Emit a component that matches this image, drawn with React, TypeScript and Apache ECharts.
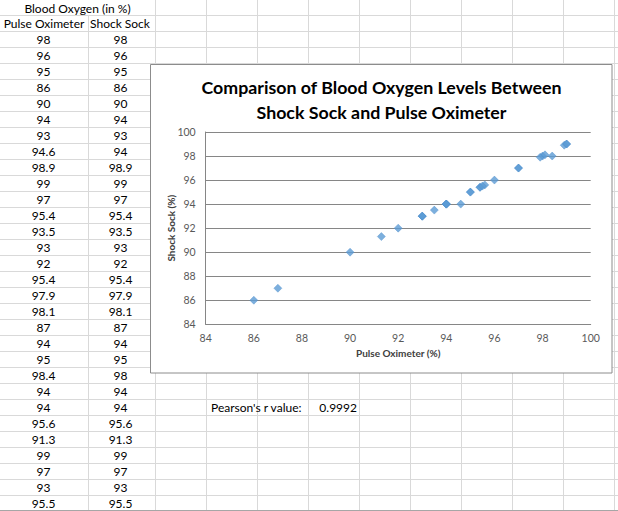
import React, { useEffect, useRef } from "react";
import * as echarts from "echarts";

const sheetTitle = "Blood Oxygen (in %)";
const columnHeaders = ["Pulse Oximeter", "Shock Sock"];
const pulseOximeter = [98, 96, 95, 86, 90, 94, 93, 94.6, 98.9, 99, 97, 95.4, 93.5, 93, 92, 95.4, 97.9, 98.1, 87, 94, 95, 98.4, 94, 94, 95.6, 91.3, 99, 97, 93, 95.5];
const shockSock = [98, 96, 95, 86, 90, 94, 93, 94, 98.9, 99, 97, 95.4, 93.5, 93, 92, 95.4, 97.9, 98.1, 87, 94, 95, 98, 94, 94, 95.6, 91.3, 99, 97, 93, 95.5];
const chartTitleLines = ["Comparison of Blood Oxygen Levels Between", "Shock Sock and Pulse Oximeter"];
const xAxisName = "Pulse Oximeter (%)";
const yAxisName = "Shock Sock (%)";
const pearsonLabel = "Pearson's r value:";
const pearsonValue = "0.9992";
const axisMin = 84;
const axisMax = 100;
const axisStep = 2;

const FONT = "Lato, 'Open Sans', sans-serif";

export default function App() {
  const ref = useRef<HTMLDivElement>(null);
  useEffect(() => {
    if (!ref.current) return;
    const chart = echarts.init(ref.current, undefined, { renderer: "svg" });
    const W = 618;
    const H = 511;
    const rowH = 16;
    const firstLine = 15.5;
    const colLines = [155.5, 206.5, 257.5, 308.5, 359.5, 410.5, 461.5, 512.5, 563.5, 614.5];
    const cellColor = "#d9d9d9";
    const g: any[] = [];
    for (let k = 0; k * rowH + firstLine < H; k++) {
      const y = firstLine + k * rowH;
      g.push({ type: "line", z: -10, silent: true, shape: { x1: 0, y1: y, x2: W, y2: y }, style: { stroke: cellColor, lineWidth: 1 } });
    }
    g.push({ type: "line", z: -10, silent: true, shape: { x1: 88.5, y1: firstLine, x2: 88.5, y2: H }, style: { stroke: cellColor, lineWidth: 1 } });
    colLines.forEach((x) => {
      g.push({ type: "line", z: -10, silent: true, shape: { x1: x, y1: 0, x2: x, y2: H }, style: { stroke: cellColor, lineWidth: 1 } });
    });
    g.push({ type: "line", z: -9, silent: true, shape: { x1: 0, y1: 510.5, x2: W, y2: 510.5 }, style: { stroke: "#a6a6a6", lineWidth: 1 } });

    const cellText = (text: string, x: number, y: number, align: string) => ({
      type: "text",
      z: -8,
      silent: true,
      style: {
        text,
        x,
        y,
        align,
        textAlign: align,
        verticalAlign: "middle",
        textVerticalAlign: "middle",
        fontFamily: FONT,
        fontSize: 12,
        fill: "#000000",
      },
    });
    g.push(cellText(sheetTitle, 77.5, 8, "center"));
    g.push(cellText(columnHeaders[0], 44, 23.5, "center"));
    g.push(cellText(columnHeaders[1], 120, 23.5, "center"));
    pulseOximeter.forEach((v, i) => {
      const y = firstLine + rowH * (i + 1) + rowH / 2;
      g.push(cellText(String(v), 43.5, y, "center"));
      g.push(cellText(String(shockSock[i]), 120.5, y, "center"));
    });
    g.push(cellText(pearsonLabel, 211, 407.5, "left"));
    g.push(cellText(pearsonValue, 357, 407.5, "right"));

    // chart area box
    g.push({
      type: "rect",
      z: -5,
      silent: true,
      shape: { x: 150.5, y: 64.5, width: 461.5, height: 308.5 },
      style: { fill: "#ffffff", stroke: "#8c8c8c", lineWidth: 1 },
    });
    chartTitleLines.forEach((t, i) => {
      g.push({
        type: "text",
        z: 5,
        silent: true,
        style: {
          text: t,
          x: 381.5,
          y: 87 + i * 25,
          align: "center",
          textAlign: "center",
          verticalAlign: "middle",
          textVerticalAlign: "middle",
          fontFamily: FONT,
          fontWeight: "bold",
          fontSize: 17.8,
          fill: "#000000",
        },
      });
    });

    const axisLabel = { color: "#595959", fontFamily: FONT, fontSize: 10.5 };
    const option: any = {
      animation: false,
      graphic: g,
      grid: { left: 205.7, top: 132, width: 385, height: 192.3, containLabel: false },
      xAxis: {
        type: "value",
        min: axisMin,
        max: axisMax,
        interval: axisStep,
        name: xAxisName,
        nameLocation: "middle",
        nameGap: 24,
        nameMoveOverlap: false,
        nameTextStyle: { color: "#404040", fontFamily: FONT, fontSize: 10, fontWeight: "bold" },
        axisLine: { show: true, lineStyle: { color: "#868686", width: 1 } },
        axisTick: { show: false },
        splitLine: { show: false },
        axisLabel: { ...axisLabel, margin: 8 },
      },
      yAxis: {
        type: "value",
        min: axisMin,
        max: axisMax,
        interval: axisStep,
        name: yAxisName,
        nameLocation: "middle",
        nameGap: 30,
        nameMoveOverlap: false,
        nameTextStyle: { color: "#404040", fontFamily: FONT, fontSize: 10, fontWeight: "bold" },
        axisLine: { show: true, lineStyle: { color: "#868686", width: 1 } },
        axisTick: { show: false },
        splitLine: { show: true, lineStyle: { color: "#868686", width: 1 } },
        axisLabel: { ...axisLabel, margin: 10 },
      },
      series: [
        {
          type: "scatter",
          data: pulseOximeter.map((x, i) => [x, shockSock[i]]),
          symbol: "diamond",
          symbolSize: 8,
          itemStyle: { color: "#5B9BD5", borderColor: "#4a8ccc", borderWidth: 0.5 },
        },
      ],
    };
    chart.setOption(option);
    return () => chart.dispose();
  }, []);
  return (
    <div
      ref={ref}
      style={{ position: "fixed", left: 0, top: 0, width: 618, height: 511, background: "#ffffff" }}
    />
  );
}
